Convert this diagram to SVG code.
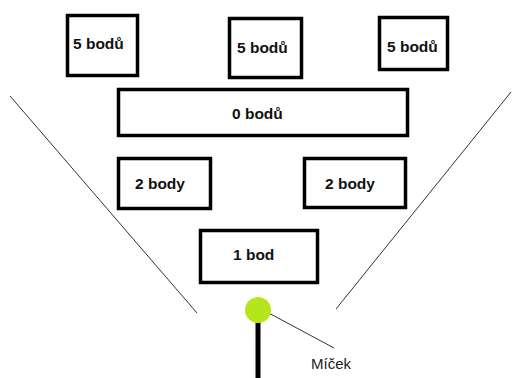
<svg xmlns="http://www.w3.org/2000/svg" width="512" height="378" viewBox="0 0 512 378">
<style>
.box{fill:#fff;stroke:#000;stroke-width:3.5}
.lbl{font-family:"Liberation Sans",Arial,sans-serif;font-weight:bold;font-size:15.5px;fill:#111}
.thin{stroke:#333;stroke-width:1;fill:none}
</style>
<rect width="512" height="378" fill="#fff"/>
<g id="edges">
<line class="thin" x1="10" y1="96" x2="197" y2="313"/>
<line class="thin" x1="511" y1="92" x2="336" y2="309"/>
<line class="thin" x1="265" y1="311" x2="334" y2="348"/>
</g>
<g id="box5a"><rect class="box" x="67.5" y="15.5" width="70" height="60"/><text class="lbl" x="73" y="49">5 bodů</text></g>
<g id="box5b"><rect class="box" x="229.5" y="18.5" width="72" height="59"/><text class="lbl" x="237" y="53">5 bodů</text></g>
<g id="box5c"><rect class="box" x="379.5" y="17.5" width="68" height="52"/><text class="lbl" x="387" y="52">5 bodů</text></g>
<g id="box0"><rect class="box" x="118.5" y="89.5" width="289" height="46"/><text class="lbl" x="232" y="119">0 bodů</text></g>
<g id="box2a"><rect class="box" x="118.5" y="158.5" width="92" height="50"/><text class="lbl" x="135" y="189">2 body</text></g>
<g id="box2b"><rect class="box" x="304.5" y="158.5" width="101" height="49"/><text class="lbl" x="325" y="189">2 body</text></g>
<g id="box1"><rect class="box" x="200.5" y="230.5" width="117" height="52"/><text class="lbl" x="233" y="260">1 bod</text></g>
<g id="ball">
<line x1="258" y1="318" x2="258" y2="378" stroke="#000" stroke-width="5"/>
<circle cx="258" cy="310" r="13" fill="#b5e61d"/>
</g>
<g id="label"><text x="311" y="369" font-family="'Liberation Sans',Arial,sans-serif" font-size="15" fill="#222">Míček</text></g>
</svg>
